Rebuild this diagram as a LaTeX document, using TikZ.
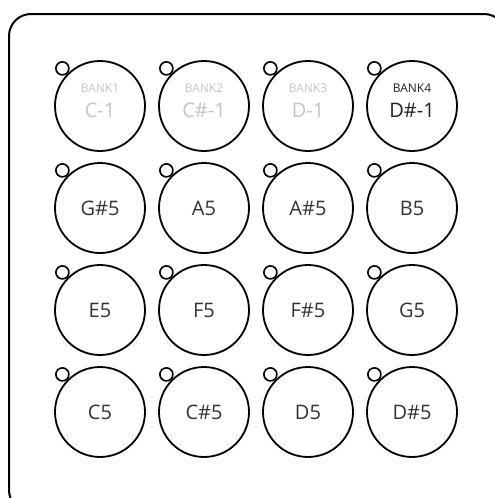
\documentclass[tikz,border=0pt]{standalone}
\usepackage{fontspec}
\setmainfont{Open Sans}
\usepackage{tikz}
\usetikzlibrary{positioning}
\definecolor{padtext}{RGB}{51,51,51}
\definecolor{dimtext}{RGB}{196,196,196}
\definecolor{banktext}{RGB}{34,34,34}

\tikzset{
 pad/.style={circle, draw, line width=1.8pt, minimum size=90pt, inner sep=0pt, text=padtext, font=\fontsize{20}{20}\selectfont},
 led/.style={circle, draw, line width=1.6pt, minimum size=13pt, inner sep=0pt},
 banklbl/.style={inner sep=0pt, font=\fontsize{12}{12}\selectfont},
 notelbl/.style={inner sep=0pt, font=\fontsize{20}{20}\selectfont}
}

\begin{document}
\begin{tikzpicture}[x=1pt,y=-1pt]
\useasboundingbox (0,0) rectangle (495,498);
\clip (0,0) rectangle (495,498);

% housing
\draw[line width=2pt, rounded corners=22pt] (9,14) rectangle (506,512);

% top row: bank pads
\foreach \lbl/\bk/\col [count=\c] in {C-1/BANK1/dimtext, C\#-1/BANK2/dimtext, D-1/BANK3/dimtext, D\#-1/BANK4/banktext}{
 \node[pad] (p1\c) at ({100+104*(\c-1)},106) {};
 \node[banklbl, text=\col] (b\c) at ([yshift=18pt]p1\c.center) {\bk};
 \node[notelbl, text=\col] (n1\c) at ([yshift=-4pt]p1\c.center) {\lbl};
}

% note pads
\foreach \lbl [count=\c] in {G\#5, A5, A\#5, B5}
 \node[pad] (p2\c) at ({100+104*(\c-1)},208) {\lbl};
\foreach \lbl [count=\c] in {E5, F5, F\#5, G5}
 \node[pad] (p3\c) at ({100+104*(\c-1)},310) {\lbl};
\foreach \lbl [count=\c] in {C5, C\#5, D5, D\#5}
 \node[pad] (p4\c) at ({100+104*(\c-1)},412) {\lbl};

% leds
\foreach \r in {1,...,4}
 \foreach \c in {1,...,4}
  \node[led, anchor=-45] (l\r\c) at (p\r\c.135) {};
\end{tikzpicture}
\end{document}
